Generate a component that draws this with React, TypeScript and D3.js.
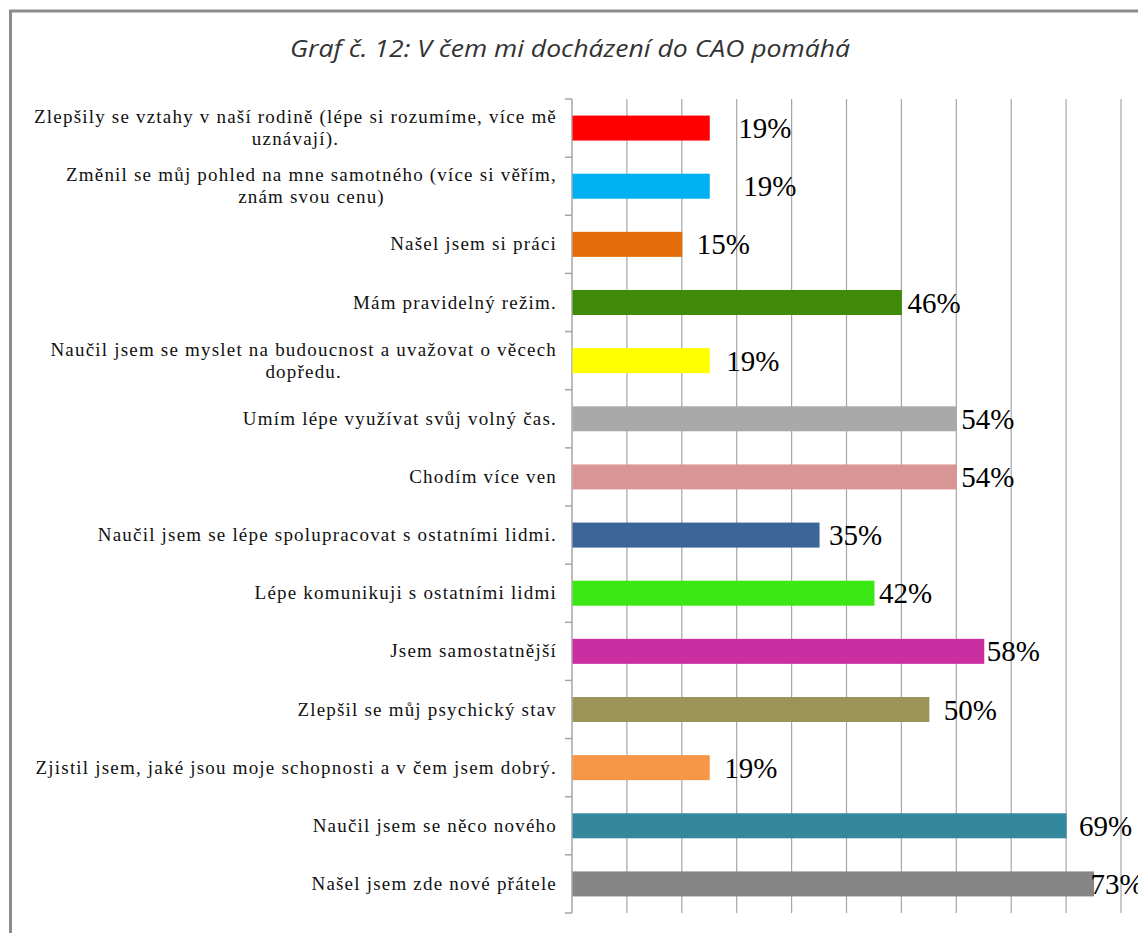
import React from "react";
import * as d3 from "d3";

const title = "Graf č. 12: V čem mi docházení do CAO pomáhá";

const categories: string[][] = [
  ["Zlepšily se vztahy v naší rodině (lépe si rozumíme, více mě", "uznávají)."],
  ["Změnil se můj pohled na mne samotného (více si věřím,", "znám svou cenu)"],
  ["Našel jsem si práci"],
  ["Mám pravidelný režim."],
  ["Naučil jsem se myslet na budoucnost a uvažovat o věcech", "dopředu."],
  ["Umím lépe využívat svůj volný čas."],
  ["Chodím více ven"],
  ["Naučil jsem se lépe spolupracovat s ostatními lidmi."],
  ["Lépe komunikuji s ostatními lidmi"],
  ["Jsem samostatnější"],
  ["Zlepšil se můj psychický stav"],
  ["Zjistil jsem, jaké jsou moje schopnosti a v čem jsem dobrý."],
  ["Naučil jsem se něco nového"],
  ["Našel jsem zde nové přátele"],
];

// counts of respondents (axis runs 0..20)
const counts = [5, 5, 4, 12, 5, 14, 14, 9, 11, 15, 13, 5, 18, 19];
const valueLabels = ["19%", "19%", "15%", "46%", "19%", "54%", "54%", "35%", "42%", "58%", "50%", "19%", "69%", "73%"];
const colors = [
  "#FF0000", "#00B0F0", "#E46C0A", "#3F8A08", "#FFFF00", "#A9A9A9", "#D99694",
  "#3C6496", "#3BE814", "#C92FA0", "#9B9357", "#F79646", "#33889E", "#868686",
];
const labelGap = [29, 34, 15, 6, 17, 5, 5, 10, 5, 3, 15, 15, 13, -3];
const xTicks = [2, 4, 6, 8, 10, 12, 14, 16, 18, 20];

export default function App() {
  const x = d3.scaleLinear().domain([0, 20]).range([572, 1121]);
  const y = d3
    .scaleBand<number>()
    .domain(d3.range(categories.length))
    .range([99, 913])
    .paddingInner(0.57)
    .paddingOuter(0.285);
  const step = y.step();
  const bw = y.bandwidth();
  const serif = "'Liberation Serif', 'Times New Roman', serif";

  return (
    <svg
      width={1138}
      height={933}
      style={{ position: "absolute", left: 0, top: 0, background: "#fff" }}
    >
      <rect x={0} y={0} width={1138} height={933} fill="#fff" />
      <rect x={10.5} y={11} width={1300} height={1100} fill="none" stroke="#8C8C8C" strokeWidth={3} />
      <text
        x={570}
        y={57}
        textAnchor="middle"
        fontFamily="'Open Sans', sans-serif"
        fontStyle="italic"
        fontSize={24}
        fill="#333"
        textLength={560}
        lengthAdjust="spacingAndGlyphs"
      >
        {title}
      </text>

      {xTicks.map((t) => (
        <line key={t} x1={x(t)} x2={x(t)} y1={99} y2={913} stroke="#A6A6A6" strokeWidth={1.2} />
      ))}
      <line x1={x(0)} x2={x(0)} y1={99} y2={913} stroke="#A6A6A6" strokeWidth={1.5} />
      {d3.range(categories.length + 1).map((i) => (
        <line key={i} x1={x(0) - 7} x2={x(0)} y1={99 + i * step} y2={99 + i * step} stroke="#A6A6A6" strokeWidth={1.5} />
      ))}

      {counts.map((c, i) => (
        <rect key={i} x={x(0) + 0.5} y={y(i)!} width={x(c) - x(0)} height={bw} fill={colors[i]} />
      ))}

      {counts.map((c, i) => (
        <text
          key={i}
          x={x(c) + labelGap[i]}
          y={y(i)! + bw / 2 + 10}
          fontFamily={serif}
          fontSize={29}
          fill="#000"
        >
          {valueLabels[i]}
        </text>
      ))}

      {categories.map((lines, i) => {
        const cy = y(i)! + bw / 2;
        return <LabelBlock key={i} lines={lines} cy={cy} lh={22} fs={19} serif={serif} />;
      })}
    </svg>
  );
}

function LabelBlock({ lines, cy, lh, fs, serif }: { lines: string[]; cy: number; lh: number; fs: number; serif: string }) {
  const ref = React.useRef<SVGGElement>(null);
  React.useLayoutEffect(() => {
    const g = ref.current;
    if (!g || lines.length < 2) return;
    const texts = Array.from(g.querySelectorAll("text")) as SVGTextElement[];
    const ws = texts.map((t) => t.getComputedTextLength());
    const maxW = Math.max(...ws);
    const center = 557 - maxW / 2;
    texts.forEach((t) => {
      t.setAttribute("x", String(center));
      t.setAttribute("text-anchor", "middle");
    });
  }, [lines]);
  const top = cy - ((lines.length - 1) * lh) / 2 + 6;
  return (
    <g ref={ref}>
      {lines.map((l, j) => (
        <text key={j} x={557} y={top + j * lh} textAnchor="end" fontFamily={serif} fontSize={fs} letterSpacing={1.2} fill="#111">
          {l}
        </text>
      ))}
    </g>
  );
}
